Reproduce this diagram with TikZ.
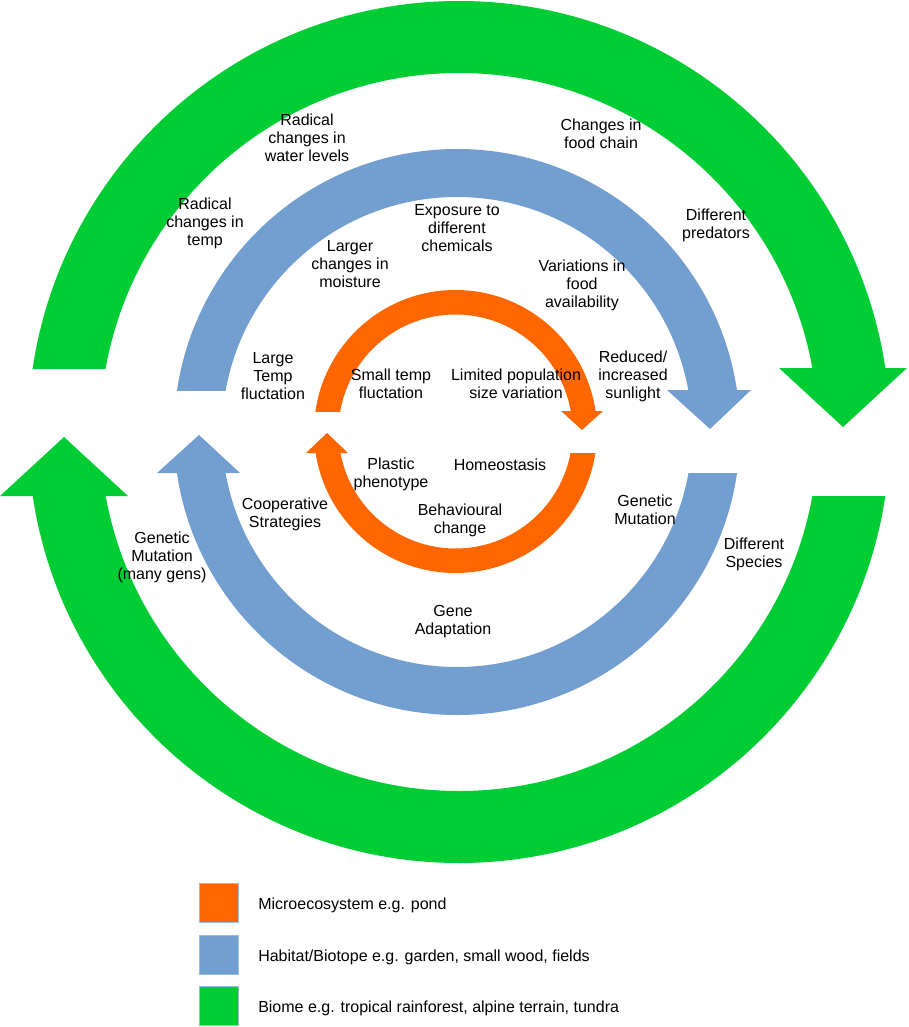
\documentclass[tikz,border=0pt]{standalone}
\usepackage{fontspec}
\setmainfont{Liberation Sans}
\definecolor{grn}{RGB}{0,204,51}
\definecolor{blu}{RGB}{114,159,207}
\definecolor{org}{RGB}{255,102,0}
\begin{document}
\begin{tikzpicture}[x=0.75pt,y=-0.75pt,
  lbl/.style={align=center,font=\fontsize{12}{13.5}\selectfont,inner sep=0pt},
  legtext/.style={anchor=west,font=\fontsize{12}{13.5}\selectfont,inner sep=0pt},
  legbox/.style={draw=blu!70,line width=0.75pt,minimum size=29.25pt,inner sep=0pt}]
\useasboundingbox (0,0) rectangle (908,1027);
% green ring
\begin{scope}
\clip (0,0) rectangle (908,368);
\fill[grn,even odd rule] (459,432) circle (431) (459,432) circle (359);
\end{scope}
\begin{scope}
\clip (0,496) rectangle (908,1027);
\fill[grn,even odd rule] (459,432) circle (431) (459,432) circle (359);
\end{scope}
\fill[grn] (779,368) -- (907,368) -- (843,427) -- cycle;
\fill[grn] (0,496) -- (128,496) -- (64,437) -- cycle;
% blue ring
\begin{scope}
\clip (0,0) rectangle (908,390);
\fill[blu,even odd rule] (457,432) circle (283) (457,432) circle (235);
\end{scope}
\begin{scope}
\clip (0,473) rectangle (908,1027);
\fill[blu,even odd rule] (457,432) circle (283) (457,432) circle (235);
\end{scope}
\fill[blu] (667,390) -- (751,390) -- (710,429) -- cycle;
\fill[blu] (157,473) -- (240,473) -- (199,435) -- cycle;
% orange ring
\begin{scope}
\clip (0,0) rectangle (908,411);
\fill[org,even odd rule] (455.5,431.5) circle (141.5) (455.5,431.5) circle (117);
\end{scope}
\begin{scope}
\clip (0,453) rectangle (908,1027);
\fill[org,even odd rule] (455.5,431.5) circle (141.5) (455.5,431.5) circle (117);
\end{scope}
\fill[org] (561,411) -- (603,411) -- (582,430) -- cycle;
\fill[org] (306,453) -- (348,453) -- (327,433) -- cycle;
% labels
\node[lbl] (l1) at (307,138) {Radical\\changes in\\water levels};
\node[lbl] (l2) at (601,134) {Changes in\\food chain};
\node[lbl] (l3) at (205,223) {Radical\\changes in\\temp};
\node[lbl] (l4) at (716,225) {Different\\predators};
\node[lbl] (l5) at (457,228) {Exposure to\\different\\chemicals};
\node[lbl] (l6) at (350,264) {Larger\\changes in\\moisture};
\node[lbl] (l7) at (582,285) {Variations in\\food\\availability};
\node[lbl] (l8) at (273,376) {Large\\Temp\\fluctation};
\node[lbl] (l9) at (391,384) {Small temp\\fluctation};
\node[lbl] (l10) at (516,384) {Limited population\\size variation};
\node[lbl] (l11) at (633,376) {Reduced/\\increased\\sunlight};
\node[lbl] (l12) at (391,474) {Plastic\\phenotype};
\node[lbl] (l13) at (500,465) {Homeostasis};
\node[lbl] (l14) at (460,520) {Behavioural\\change};
\node[lbl] (l15) at (285,514) {Cooperative\\Strategies};
\node[lbl] (l16) at (645,510) {Genetic\\Mutation};
\node[lbl] (l17) at (162,557) {Genetic\\Mutation\\(many gens)};
\node[lbl] (l18) at (754,554) {Different\\Species};
\node[lbl] (l19) at (453,622) {Gene\\Adaptation};
% legend
\node[legbox,fill=org] (k1) at (219,903) {};
\node[legbox,fill=blu] (k2) at (219,955) {};
\node[legbox,fill=grn] (k3) at (219,1006) {};
\node[legtext] (t1) at (258,905) {Microecosystem e.g. pond};
\node[legtext] (t2) at (258,957) {Habitat/Biotope e.g. garden, small wood, fields};
\node[legtext] (t3) at (258,1008) {Biome e.g. tropical rainforest, alpine terrain, tundra};
\end{tikzpicture}
\end{document}
